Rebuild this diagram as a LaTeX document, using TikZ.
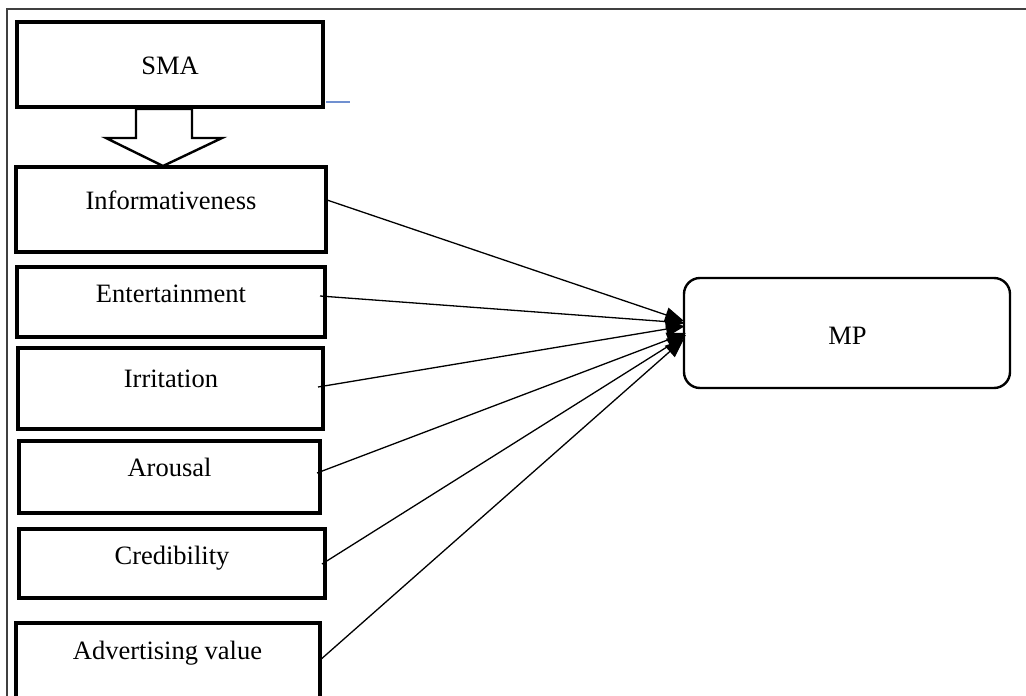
\documentclass[tikz,border=0pt]{standalone}
\usepackage{fontspec}
\setmainfont{Liberation Serif}
\usetikzlibrary{arrows.meta}
\definecolor{framegray}{HTML}{404040}
\definecolor{lineblue}{HTML}{7090D0}
\begin{document}
\begin{tikzpicture}[x=1pt,y=-1pt,
  box/.style={draw=black,line width=3.2pt},
  lbl/.style={anchor=base,inner sep=0pt,font=\fontsize{26.5}{30}\selectfont},
  conn/.style={line width=1.3pt,-{Triangle[length=19pt,width=15pt]}}]
\useasboundingbox (0,0) rectangle (1026,696);
% outer frame
\draw[framegray,line width=2.4pt] (7,696) -- (7,9) -- (1026,9);
% boxes
\draw[box] (17,22) rectangle (323,107);
\draw[box] (16,167) rectangle (326,252);
\draw[box] (17,267) rectangle (325,337);
\draw[box] (18,348) rectangle (323,429);
\draw[box] (19,441) rectangle (320,513);
\draw[box] (19,529) rectangle (325,598);
\draw[box] (16,700) -- (16,623) -- (320,623) -- (320,700);
\draw[draw=black,line width=2.4pt,rounded corners=16pt] (684,278) rectangle (1010,388);
% labels
\node[lbl] (sma) at (170,74) {SMA};
\node[lbl] (inf) at (171,209) {Informativeness};
\node[lbl] (ent) at (171,302) {Entertainment};
\node[lbl] (irr) at (171,387) {Irritation};
\node[lbl] (aro) at (169.5,476) {Arousal};
\node[lbl] (cre) at (172,564) {Credibility};
\node[lbl] (adv) at (167.5,659) {Advertising value};
\node[lbl] (mp) at (847.5,344) {MP};
% blue stray line
\draw[lineblue,line width=1.6pt] (326,102) -- (350,102);
% block arrow
\draw[line width=2.4pt,fill=white,line join=miter]
  (136,109) -- (192,109) -- (192,138) -- (222,138) -- (163,166) -- (106,138) -- (136,138) -- cycle;
% connector endpoints
\coordinate (s1) at (327,200);
\coordinate (s2) at (320,296);
\coordinate (s3) at (318,387);
\coordinate (s4) at (317,473);
\coordinate (s5) at (322,564);
\coordinate (s6) at (319,661);
\coordinate (t1) at (684,321);
\coordinate (t2) at (685,323);
\coordinate (t3) at (685,326);
\coordinate (t4) at (686,333);
\coordinate (t5) at (686,335);
\coordinate (t6) at (684,339);
\foreach \i in {1,...,6} \draw[conn] (s\i) -- (t\i);
\end{tikzpicture}
\end{document}
